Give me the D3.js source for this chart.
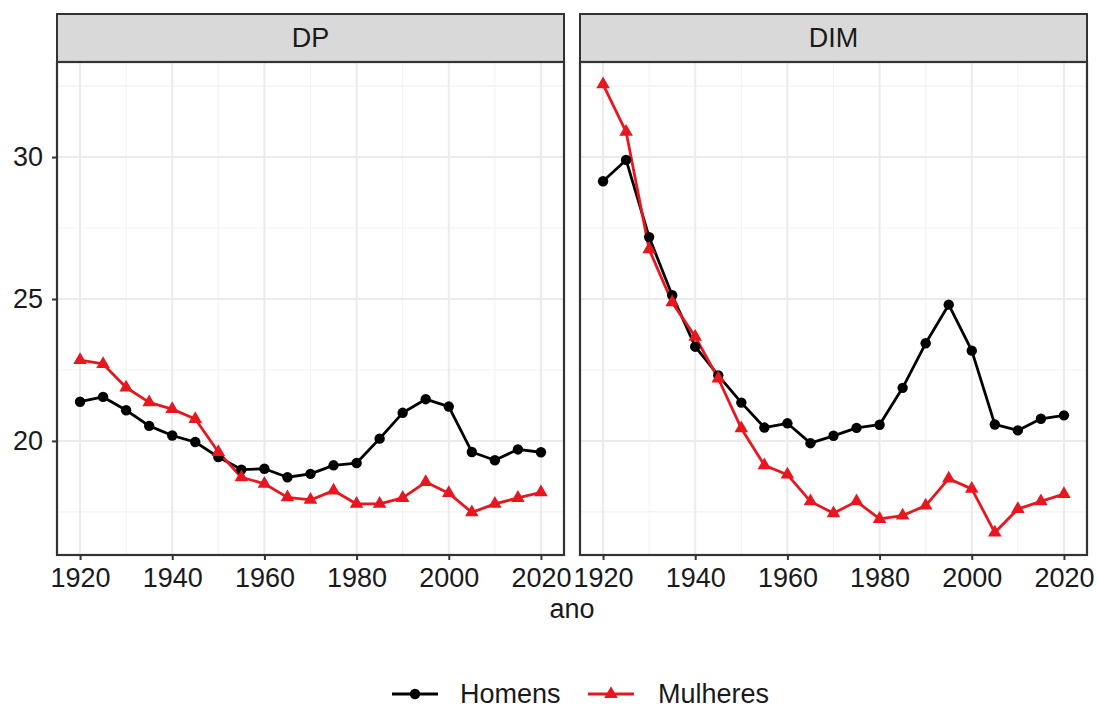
<!DOCTYPE html>
<html>
<head>
<meta charset="utf-8">
<script src="https://cdn.jsdelivr.net/npm/d3@7"></script>
<style>
  body { margin: 0; background: #fff; }
  text { font-family: "Liberation Sans", Arial, sans-serif; fill: #1a1a1a; }
  .strip { fill: #d9d9d9; stroke: #333; stroke-width: 2; }
  .border { fill: none; stroke: #333; stroke-width: 2.2; }
  .grid-major line { stroke: #ebebeb; stroke-width: 2; }
  .grid-minor line { stroke: #f2f2f2; stroke-width: 1.1; }
  .axis path { display: none; }
  .axis line { stroke: #333; stroke-width: 2; }
  .axis text { font-size: 27px; fill: #1a1a1a; }
</style>
</head>
<body>
<div id="chart"></div>
<script>
// dados
const anos = [1920, 1925, 1930, 1935, 1940, 1945, 1950, 1955, 1960, 1965, 1970,
              1975, 1980, 1985, 1990, 1995, 2000, 2005, 2010, 2015, 2020]
const dpHomens    = [21.38, 21.55, 21.08, 20.53, 20.19, 19.96, 19.43, 18.99, 19.02, 18.72, 18.84,
                     19.14, 19.22, 20.08, 20.99, 21.47, 21.21, 19.61, 19.32, 19.70, 19.60]
const dpMulheres  = [22.85, 22.71, 21.88, 21.36, 21.12, 20.77, 19.61, 18.72, 18.49, 18.01, 17.92,
                     18.25, 17.78, 17.78, 17.99, 18.55, 18.16, 17.48, 17.78, 17.99, 18.19]
const dimHomens   = [29.15, 29.90, 27.18, 25.13, 23.32, 22.31, 21.35, 20.47, 20.62, 19.92, 20.18,
                     20.46, 20.57, 21.87, 23.44, 24.80, 23.18, 20.58, 20.37, 20.78, 20.90]
const dimMulheres = [32.56, 30.89, 26.75, 24.88, 23.67, 22.20, 20.44, 19.14, 18.81, 17.87, 17.45,
                     17.87, 17.25, 17.37, 17.72, 18.67, 18.31, 16.77, 17.60, 17.87, 18.13]
const paineis = ["DP", "DIM"]
const series = ["Homens", "Mulheres"]
const xTicks = [1920, 1940, 1960, 1980, 2000, 2020]
const xMinor = [1930, 1950, 1970, 1990, 2010]
const yTicks = [20, 25, 30]
const yMinor = [17.5, 22.5, 27.5, 32.5]

const cores = { Homens: "#000000", Mulheres: "#e8161e" }

const width = 1097, height = 709
const panelW = 507, panelH = 493
const panelX = [57, 580]
const stripTop = 14, stripH = 48
const panelTop = stripTop + stripH
const fs = "27px"

const svg = d3.select("#chart").append("svg")
  .attr("width", width).attr("height", height)

// escalas compartilhadas (expansao de 5% como no ggplot)
const allVals = dpHomens.concat(dpMulheres, dimHomens, dimMulheres)
const [ymin, ymax] = d3.extent(allVals)
const yPad = (ymax - ymin) * 0.05
const y = d3.scaleLinear().domain([ymin - yPad, ymax + yPad]).range([panelH, 0])
const x = d3.scaleLinear().domain([1915, 2025]).range([0, panelW])

const dados = {
  DP:  { Homens: dpHomens,  Mulheres: dpMulheres },
  DIM: { Homens: dimHomens, Mulheres: dimMulheres }
}

const tri = d3.symbol().type(d3.symbolTriangle).size(80)

paineis.forEach((p, i) => {
  // Strip
  const s = svg.append("g").attr("transform", `translate(${panelX[i]},${stripTop})`)
  s.append("rect").attr("class", "strip")
    .attr("width", panelW).attr("height", stripH)
  s.append("text")
    .attr("x", panelW / 2).attr("y", stripH / 2)
    .attr("text-anchor", "middle").attr("dominant-baseline", "central")
    .style("font-size", fs)
    .text(p)

  const g = svg.append("g").attr("transform", `translate(${panelX[i]},${panelTop})`)

  // Grid
  const gn = g.append("g").attr("class", "grid-minor")
  gn.selectAll(".gx").data(xMinor).enter().append("line")
      .attr("x1", d => x(d)).attr("x2", d => x(d)).attr("y1", 0).attr("y2", panelH)
  gn.selectAll(".gy").data(yMinor).enter().append("line")
      .attr("x1", 0).attr("x2", panelW).attr("y1", d => y(d)).attr("y2", d => y(d))
  const gm = g.append("g").attr("class", "grid-major")
  gm.selectAll(".gx").data(xTicks).enter().append("line")
      .attr("x1", d => x(d)).attr("x2", d => x(d)).attr("y1", 0).attr("y2", panelH)
  gm.selectAll(".gy").data(yTicks).enter().append("line")
      .attr("x1", 0).attr("x2", panelW).attr("y1", d => y(d)).attr("y2", d => y(d))

  // Lines
  const line = d3.line().x((d, j) => x(anos[j])).y(d => y(d))
  series.forEach(k => {
    g.append("path")
      .datum(dados[p][k])
      .attr("d", line)
      .attr("fill", "none")
      .attr("stroke", cores[k])
      .attr("stroke-width", 2.8)
      .attr("stroke-linejoin", "round")
  })

  // Points
  g.append("g").selectAll("circle").data(dados[p].Homens).enter()
    .append("circle")
      .attr("cx", (d, j) => x(anos[j]))
      .attr("cy", d => y(d))
      .attr("r", 5.2)
      .attr("fill", cores.Homens)
  g.append("g").selectAll("path").data(dados[p].Mulheres).enter()
    .append("path")
      .attr("d", tri)
      .attr("transform", (d, j) => `translate(${x(anos[j])},${y(d)})`)
      .attr("fill", cores.Mulheres)

  // Border
  g.append("rect").attr("class", "border")
    .attr("width", panelW).attr("height", panelH)

  // Axes
  g.append("g").attr("class", "axis")
    .attr("transform", `translate(0,${panelH})`)
    .call(d3.axisBottom(x).tickValues(xTicks).tickFormat(d3.format("d"))
      .tickSize(5).tickPadding(8))
  if (i === 0) {
    g.append("g").attr("class", "axis")
      .call(d3.axisLeft(y).tickValues(yTicks).tickSize(5).tickPadding(9))
  }
})

// Axis title
svg.append("text")
  .attr("x", (panelX[0] + panelX[1] + panelW) / 2)
  .attr("y", 618)
  .attr("text-anchor", "middle")
  .style("font-size", fs)
  .text("ano")

// Legend
const legY = 694
const legItems = [
  { k: "Homens", x0: 392, tx: 460 },
  { k: "Mulheres", x0: 588, tx: 658 }
]
const leg = svg.append("g")
legItems.forEach(it => {
  leg.append("line")
    .attr("x1", it.x0).attr("x2", it.x0 + 46)
    .attr("y1", legY).attr("y2", legY)
    .attr("stroke", cores[it.k]).attr("stroke-width", 2.8)
  if (it.k === "Homens") {
    leg.append("circle").attr("cx", it.x0 + 23).attr("cy", legY).attr("r", 5.2)
      .attr("fill", cores[it.k])
  } else {
    leg.append("path").attr("d", tri)
      .attr("transform", `translate(${it.x0 + 23},${legY})`)
      .attr("fill", cores[it.k])
  }
  leg.append("text")
    .attr("x", it.tx).attr("y", legY)
    .attr("dominant-baseline", "central")
    .style("font-size", fs)
    .text(it.k)
})
</script>
</body>
</html>
